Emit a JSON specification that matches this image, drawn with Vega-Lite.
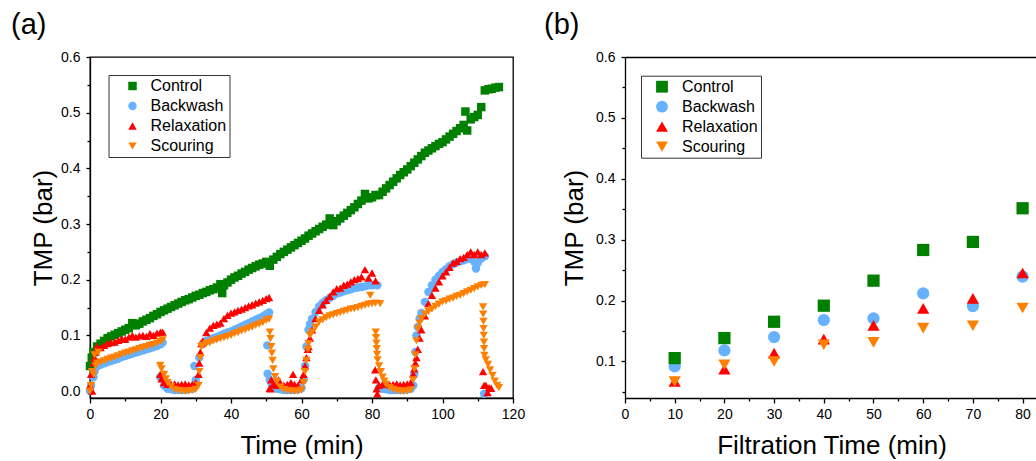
{
"$schema": "https://vega.github.io/schema/vega-lite/v6.json",
"padding": {"left": 10, "top": 10, "right": 0, "bottom": 0},
"background": "white",
"spacing": 112,
"bounds": "flush",
"config": {
  "font": "Liberation Sans",
  "view": {"stroke": null},
  "axis": {"labelFont": "Liberation Sans", "titleFont": "Liberation Sans", "labelFontSize": 14, "titleFontSize": 26, "titleFontWeight": "normal", "labelColor": "#000", "titleColor": "#000", "domainColor": "#000", "tickColor": "#000", "domainWidth": 1.3, "tickWidth": 1.3, "grid": false, "labelFlush": false, "labelOverlap": false},
  "legend": {"labelFont": "Liberation Sans", "labelFontSize": 16, "labelColor": "#000", "strokeColor": "#333", "padding": 3, "rowPadding": 4, "symbolStrokeWidth": 0},
  "title": {"font": "Liberation Sans", "fontSize": 29, "fontWeight": "normal", "color": "#000"}
},
"datasets": {
"a": [
{"t":0,"Control":0.045,"Backwash":0.0,"Relaxation":0.01,"Scouring":0.0},
{"t":1,"Control":0.07,"Backwash":0.025,"Relaxation":0.05,"Scouring":0.03},
{"t":2,"Control":0.08,"Backwash":0.044,"Relaxation":0.08,"Scouring":0.05},
{"t":3,"Control":0.085,"Backwash":0.047,"Relaxation":0.078,"Scouring":0.052},
{"t":4,"Control":0.09,"Backwash":0.05,"Relaxation":0.082,"Scouring":0.054},
{"t":5,"Control":0.095,"Backwash":0.052,"Relaxation":0.085,"Scouring":0.057},
{"t":6,"Control":0.098,"Backwash":0.054,"Relaxation":0.087,"Scouring":0.059},
{"t":7,"Control":0.101,"Backwash":0.056,"Relaxation":0.088,"Scouring":0.061},
{"t":8,"Control":0.104,"Backwash":0.058,"Relaxation":0.091,"Scouring":0.063},
{"t":9,"Control":0.107,"Backwash":0.061,"Relaxation":0.094,"Scouring":0.066},
{"t":10,"Control":0.11,"Backwash":0.063,"Relaxation":0.093,"Scouring":0.068},
{"t":11,"Control":0.113,"Backwash":0.065,"Relaxation":0.097,"Scouring":0.07},
{"t":12,"Control":0.122,"Backwash":0.067,"Relaxation":0.1,"Scouring":0.072},
{"t":13,"Control":0.118,"Backwash":0.069,"Relaxation":0.097,"Scouring":0.074},
{"t":14,"Control":0.121,"Backwash":0.071,"Relaxation":0.099,"Scouring":0.076},
{"t":15,"Control":0.125,"Backwash":0.073,"Relaxation":0.1,"Scouring":0.078},
{"t":16,"Control":0.128,"Backwash":0.075,"Relaxation":0.098,"Scouring":0.08},
{"t":17,"Control":0.131,"Backwash":0.077,"Relaxation":0.103,"Scouring":0.082},
{"t":18,"Control":0.135,"Backwash":0.079,"Relaxation":0.1,"Scouring":0.084},
{"t":19,"Control":0.138,"Backwash":0.081,"Relaxation":0.104,"Scouring":0.086},
{"t":20,"Control":0.142,"Backwash":0.084,"Relaxation":0.106,"Scouring":0.089},
{"t":21,"Control":0.145,"Backwash":0.01,"Relaxation":0.015,"Scouring":0.03},
{"t":22,"Control":0.148,"Backwash":0.004,"Relaxation":0.012,"Scouring":0.015},
{"t":23,"Control":0.151,"Backwash":0.003,"Relaxation":0.012,"Scouring":0.008},
{"t":24,"Control":0.154,"Backwash":0.002,"Relaxation":0.013,"Scouring":0.003},
{"t":25,"Control":0.157,"Backwash":0.002,"Relaxation":0.011,"Scouring":0.001},
{"t":26,"Control":0.16,"Backwash":0.002,"Relaxation":0.012,"Scouring":0.0},
{"t":27,"Control":0.163,"Backwash":0.002,"Relaxation":0.013,"Scouring":0.0},
{"t":28,"Control":0.165,"Backwash":0.003,"Relaxation":0.011,"Scouring":0.0},
{"t":29,"Control":0.168,"Backwash":0.004,"Relaxation":0.012,"Scouring":0.001},
{"t":30,"Control":0.171,"Backwash":0.02,"Relaxation":0.015,"Scouring":0.003},
{"t":31,"Control":0.173,"Backwash":0.06,"Relaxation":0.05,"Scouring":0.035},
{"t":32,"Control":0.176,"Backwash":0.085,"Relaxation":0.09,"Scouring":0.082},
{"t":33,"Control":0.178,"Backwash":0.09,"Relaxation":0.105,"Scouring":0.085},
{"t":34,"Control":0.181,"Backwash":0.092,"Relaxation":0.113,"Scouring":0.087},
{"t":35,"Control":0.183,"Backwash":0.095,"Relaxation":0.118,"Scouring":0.09},
{"t":36,"Control":0.186,"Backwash":0.097,"Relaxation":0.12,"Scouring":0.092},
{"t":37,"Control":0.192,"Backwash":0.1,"Relaxation":0.122,"Scouring":0.094},
{"t":38,"Control":0.19,"Backwash":0.103,"Relaxation":0.13,"Scouring":0.096},
{"t":39,"Control":0.195,"Backwash":0.105,"Relaxation":0.136,"Scouring":0.098},
{"t":40,"Control":0.2,"Backwash":0.107,"Relaxation":0.14,"Scouring":0.1},
{"t":41,"Control":0.204,"Backwash":0.11,"Relaxation":0.142,"Scouring":0.103},
{"t":42,"Control":0.207,"Backwash":0.113,"Relaxation":0.145,"Scouring":0.105},
{"t":43,"Control":0.211,"Backwash":0.116,"Relaxation":0.147,"Scouring":0.108},
{"t":44,"Control":0.214,"Backwash":0.119,"Relaxation":0.15,"Scouring":0.11},
{"t":45,"Control":0.218,"Backwash":0.122,"Relaxation":0.153,"Scouring":0.113},
{"t":46,"Control":0.221,"Backwash":0.125,"Relaxation":0.155,"Scouring":0.115},
{"t":47,"Control":0.224,"Backwash":0.128,"Relaxation":0.158,"Scouring":0.118},
{"t":48,"Control":0.227,"Backwash":0.131,"Relaxation":0.16,"Scouring":0.12},
{"t":49,"Control":0.229,"Backwash":0.134,"Relaxation":0.163,"Scouring":0.123},
{"t":50,"Control":0.232,"Backwash":0.138,"Relaxation":0.166,"Scouring":0.127},
{"t":51,"Control":0.225,"Backwash":0.02,"Relaxation":0.005,"Scouring":0.106},
{"t":52,"Control":0.236,"Backwash":0.008,"Relaxation":0.012,"Scouring":0.04},
{"t":53,"Control":0.241,"Backwash":0.004,"Relaxation":0.01,"Scouring":0.017},
{"t":54,"Control":0.246,"Backwash":0.003,"Relaxation":0.012,"Scouring":0.007},
{"t":55,"Control":0.25,"Backwash":0.002,"Relaxation":0.01,"Scouring":0.003},
{"t":56,"Control":0.254,"Backwash":0.002,"Relaxation":0.012,"Scouring":0.001},
{"t":57,"Control":0.258,"Backwash":0.002,"Relaxation":0.015,"Scouring":0.0},
{"t":58,"Control":0.262,"Backwash":0.002,"Relaxation":0.012,"Scouring":0.0},
{"t":59,"Control":0.266,"Backwash":0.003,"Relaxation":0.01,"Scouring":0.0},
{"t":60,"Control":0.27,"Backwash":0.005,"Relaxation":0.02,"Scouring":0.002},
{"t":61,"Control":0.274,"Backwash":0.045,"Relaxation":0.045,"Scouring":0.035},
{"t":62,"Control":0.279,"Backwash":0.11,"Relaxation":0.08,"Scouring":0.085},
{"t":63,"Control":0.283,"Backwash":0.13,"Relaxation":0.11,"Scouring":0.106},
{"t":64,"Control":0.287,"Backwash":0.142,"Relaxation":0.13,"Scouring":0.115},
{"t":65,"Control":0.291,"Backwash":0.152,"Relaxation":0.145,"Scouring":0.124},
{"t":66,"Control":0.295,"Backwash":0.158,"Relaxation":0.155,"Scouring":0.128},
{"t":67,"Control":0.299,"Backwash":0.163,"Relaxation":0.163,"Scouring":0.132},
{"t":68,"Control":0.31,"Backwash":0.167,"Relaxation":0.17,"Scouring":0.135},
{"t":69,"Control":0.298,"Backwash":0.171,"Relaxation":0.178,"Scouring":0.137},
{"t":70,"Control":0.305,"Backwash":0.175,"Relaxation":0.184,"Scouring":0.139},
{"t":71,"Control":0.31,"Backwash":0.177,"Relaxation":0.185,"Scouring":0.141},
{"t":72,"Control":0.315,"Backwash":0.179,"Relaxation":0.19,"Scouring":0.143},
{"t":73,"Control":0.32,"Backwash":0.181,"Relaxation":0.192,"Scouring":0.145},
{"t":74,"Control":0.325,"Backwash":0.183,"Relaxation":0.196,"Scouring":0.147},
{"t":75,"Control":0.33,"Backwash":0.185,"Relaxation":0.2,"Scouring":0.148},
{"t":76,"Control":0.336,"Backwash":0.186,"Relaxation":0.202,"Scouring":0.15},
{"t":77,"Control":0.342,"Backwash":0.187,"Relaxation":0.205,"Scouring":0.152},
{"t":78,"Control":0.354,"Backwash":0.188,"Relaxation":0.218,"Scouring":0.154},
{"t":79,"Control":0.346,"Backwash":0.19,"Relaxation":0.203,"Scouring":0.156},
{"t":80,"Control":0.348,"Backwash":0.19,"Relaxation":0.212,"Scouring":0.157},
{"t":81,"Control":0.352,"Backwash":0.191,"Relaxation":0.198,"Scouring":0.158},
{"t":82,"Control":0.352,"Backwash":0.006,"Relaxation":0.01,"Scouring":0.045},
{"t":83,"Control":0.358,"Backwash":0.004,"Relaxation":0.012,"Scouring":0.025},
{"t":84,"Control":0.364,"Backwash":0.003,"Relaxation":0.013,"Scouring":0.012},
{"t":85,"Control":0.37,"Backwash":0.002,"Relaxation":0.011,"Scouring":0.006},
{"t":86,"Control":0.376,"Backwash":0.002,"Relaxation":0.012,"Scouring":0.003},
{"t":87,"Control":0.382,"Backwash":0.002,"Relaxation":0.013,"Scouring":0.001},
{"t":88,"Control":0.388,"Backwash":0.002,"Relaxation":0.011,"Scouring":0.0},
{"t":89,"Control":0.393,"Backwash":0.002,"Relaxation":0.012,"Scouring":0.0},
{"t":90,"Control":0.398,"Backwash":0.003,"Relaxation":0.013,"Scouring":0.0},
{"t":91,"Control":0.404,"Backwash":0.004,"Relaxation":0.015,"Scouring":0.002},
{"t":92,"Control":0.41,"Backwash":0.03,"Relaxation":0.04,"Scouring":0.04},
{"t":93,"Control":0.416,"Backwash":0.115,"Relaxation":0.075,"Scouring":0.112},
{"t":94,"Control":0.422,"Backwash":0.14,"Relaxation":0.11,"Scouring":0.13},
{"t":95,"Control":0.428,"Backwash":0.16,"Relaxation":0.135,"Scouring":0.138},
{"t":96,"Control":0.432,"Backwash":0.178,"Relaxation":0.157,"Scouring":0.143},
{"t":97,"Control":0.436,"Backwash":0.19,"Relaxation":0.172,"Scouring":0.147},
{"t":98,"Control":0.44,"Backwash":0.2,"Relaxation":0.185,"Scouring":0.152},
{"t":99,"Control":0.444,"Backwash":0.207,"Relaxation":0.196,"Scouring":0.156},
{"t":100,"Control":0.447,"Backwash":0.214,"Relaxation":0.207,"Scouring":0.16},
{"t":101,"Control":0.452,"Backwash":0.219,"Relaxation":0.214,"Scouring":0.162},
{"t":102,"Control":0.457,"Backwash":0.224,"Relaxation":0.222,"Scouring":0.165},
{"t":103,"Control":0.462,"Backwash":0.228,"Relaxation":0.23,"Scouring":0.167},
{"t":104,"Control":0.467,"Backwash":0.231,"Relaxation":0.233,"Scouring":0.17},
{"t":105,"Control":0.472,"Backwash":0.233,"Relaxation":0.238,"Scouring":0.172},
{"t":106,"Control":0.478,"Backwash":0.235,"Relaxation":0.24,"Scouring":0.175},
{"t":107,"Control":0.468,"Backwash":0.237,"Relaxation":0.245,"Scouring":0.178},
{"t":108,"Control":0.488,"Backwash":0.238,"Relaxation":0.25,"Scouring":0.181},
{"t":109,"Control":0.492,"Backwash":0.232,"Relaxation":0.245,"Scouring":0.184},
{"t":110,"Control":0.496,"Backwash":0.23,"Relaxation":0.25,"Scouring":0.187},
{"t":111,"Control":0.51,"Backwash":0.238,"Relaxation":0.245,"Scouring":0.19},
{"t":112,"Control":0.54,"Backwash":0.242,"Relaxation":0.248,"Scouring":0.191},
{"t":113,"Control":0.542},
{"t":114,"Control":0.543},
{"t":115,"Control":0.545},
{"t":116,"Control":0.546,"Scouring":0.006},
{"t":0.3,"Backwash":0.01,"Relaxation":0.03,"Scouring":0.01},
{"t":0.5,"Control":0.06},
{"t":0.6,"Relaxation":0.0,"Scouring":0.035},
{"t":1.3,"Backwash":0.035,"Relaxation":0.06,"Scouring":0.065},
{"t":1.6,"Relaxation":0.07,"Scouring":0.045},
{"t":2.4,"Scouring":0.07},
{"t":19.9,"Backwash":0.025,"Relaxation":0.03,"Scouring":0.046},
{"t":20.3,"Relaxation":0.022,"Scouring":0.04},
{"t":20.6,"Backwash":0.087,"Relaxation":0.106,"Scouring":0.092},
{"t":21.5,"Scouring":0.022},
{"t":29.6,"Backwash":0.045},
{"t":30.8,"Relaxation":0.03,"Scouring":0.01},
{"t":31.3,"Relaxation":0.07,"Scouring":0.06},
{"t":31.6,"Relaxation":0.085,"Scouring":0.08},
{"t":37.5,"Control":0.176},
{"t":50.3,"Backwash":0.082},
{"t":50.4,"Backwash":0.031},
{"t":50.8,"Backwash":0.141,"Relaxation":0.168,"Scouring":0.129},
{"t":51.2,"Relaxation":0.004,"Scouring":0.094},
{"t":51.4,"Relaxation":0.02,"Scouring":0.08},
{"t":51.6,"Backwash":0.012,"Scouring":0.068},
{"t":51.8,"Scouring":0.055},
{"t":52.5,"Scouring":0.026},
{"t":53.5,"Relaxation":0.02},
{"t":57.6,"Relaxation":0.03},
{"t":60.6,"Backwash":0.02,"Relaxation":0.03,"Scouring":0.015},
{"t":61.4,"Backwash":0.08,"Relaxation":0.06,"Scouring":0.055},
{"t":61.8,"Relaxation":0.075,"Scouring":0.075},
{"t":62.4,"Backwash":0.12,"Relaxation":0.095,"Scouring":0.1},
{"t":79.5,"Scouring":0.172},
{"t":80.9,"Relaxation":0.038},
{"t":81.05,"Scouring":0.106},
{"t":81.1,"Relaxation":0.02},
{"t":81.15,"Scouring":0.096},
{"t":81.25,"Scouring":0.086},
{"t":81.3,"Relaxation":0.004},
{"t":81.35,"Scouring":0.076},
{"t":81.45,"Scouring":0.066},
{"t":81.5,"Relaxation":-0.005,"Backwash":0.19},
{"t":81.6,"Scouring":0.056},
{"t":82.3,"Scouring":0.157},
{"t":82.5,"Scouring":0.035},
{"t":83.5,"Scouring":0.018},
{"t":91.7,"Backwash":0.01,"Relaxation":0.03,"Scouring":0.02},
{"t":92.3,"Backwash":0.07,"Relaxation":0.05,"Scouring":0.065},
{"t":92.6,"Backwash":0.1,"Relaxation":0.06,"Scouring":0.09},
{"t":93.5,"Backwash":0.13,"Relaxation":0.095,"Scouring":0.122},
{"t":106.5,"Control":0.502},
{"t":109.5,"Backwash":0.22},
{"t":111.5,"Relaxation":0.035,"Scouring":0.151},
{"t":111.55,"Scouring":0.138},
{"t":111.6,"Scouring":0.125},
{"t":111.65,"Scouring":0.112},
{"t":111.7,"Scouring":0.1},
{"t":111.75,"Scouring":0.088},
{"t":111.8,"Relaxation":0.01,"Backwash":-0.005,"Scouring":0.076},
{"t":111.9,"Scouring":0.064},
{"t":112.3,"Relaxation":0.01,"Scouring":0.056},
{"t":112.8,"Relaxation":-0.003},
{"t":112.9,"Scouring":0.048},
{"t":113.2,"Relaxation":0.006},
{"t":113.5,"Scouring":0.038},
{"t":113.8,"Relaxation":0.005},
{"t":114.2,"Scouring":0.028},
{"t":114.8,"Scouring":0.018},
{"t":115.5,"Scouring":0.01}
],
"b": [
{"t":10,"Control":0.1055,"Backwash":0.0918,"Relaxation":0.067,"Scouring":0.067},
{"t":20,"Control":0.1384,"Backwash":0.1181,"Relaxation":0.0874,"Scouring":0.0945},
{"t":30,"Control":0.1652,"Backwash":0.14,"Relaxation":0.1137,"Scouring":0.1},
{"t":40,"Control":0.1916,"Backwash":0.168,"Relaxation":0.1367,"Scouring":0.1274},
{"t":50,"Control":0.2327,"Backwash":0.1707,"Relaxation":0.1592,"Scouring":0.1313},
{"t":60,"Control":0.2831,"Backwash":0.2118,"Relaxation":0.1872,"Scouring":0.1548},
{"t":70,"Control":0.2963,"Backwash":0.191,"Relaxation":0.2036,"Scouring":0.1587},
{"t":80,"Control":0.3516,"Backwash":0.2393,"Relaxation":0.2453,"Scouring":0.1877}
]
},
"resolve": {"scale": {"color": "independent", "shape": "independent", "size": "independent"}, "legend": {"color": "independent", "shape": "independent"}},
"hconcat": [
{
  "width": 423, "height": 341,
  "view": {"stroke": "#000", "strokeWidth": 1.3},
  "title": {"text": "(a)", "anchor": "start", "frame": "group", "dx": -79, "offset": 10},
  "data": {"name": "a"},
  "transform": [{"fold": ["Control", "Backwash", "Relaxation", "Scouring"], "as": ["series", "TMP"]}, {"filter": "isValid(datum.TMP)"}],
  "mark": {"type": "point", "filled": true, "opacity": 1},
  "encoding": {
    "x": {"field": "t", "type": "quantitative", "scale": {"domain": [0, 120], "nice": false, "zero": false},
      "axis": {"title": "Time (min)", "values": [0,10,20,30,40,50,60,70,80,90,100,110,120], "labelExpr": "datum.value % 20 === 0 ? datum.label : ''", "tickSize": {"condition": {"test": "datum.value % 20 === 0", "value": 5}, "value": 3}, "labelPadding": 4, "titlePadding": 11}},
    "y": {"field": "TMP", "type": "quantitative", "scale": {"domain": [-0.0125, 0.6], "nice": false, "zero": false},
      "axis": {"title": "TMP (bar)", "values": [0,0.05,0.1,0.15,0.2,0.25,0.3,0.35,0.4,0.45,0.5,0.55,0.6], "labelExpr": "abs(datum.value*10 - round(datum.value*10)) < 0.001 ? format(datum.value, '.1f') : ''", "tickSize": {"condition": {"test": "abs(datum.value*10 - round(datum.value*10)) < 0.001", "value": 4}, "value": 3}, "labelPadding": 6, "titlePadding": 4}},
    "size": {"field": "series", "type": "nominal", "scale": {"domain": ["Control", "Backwash", "Relaxation", "Scouring"], "range": [72, 70, 100, 100]}, "legend": null},
    "color": {"field": "series", "type": "nominal", "scale": {"domain": ["Control", "Backwash", "Relaxation", "Scouring"], "range": ["#008000", "#66B2FF", "#FF0000", "#FF8000"]},
      "legend": {"title": null, "orient": "none", "legendX": 18.5, "legendY": 18, "symbolSize": 48, "symbolOffset": 13, "labelOffset": 10}},
    "shape": {"field": "series", "type": "nominal", "scale": {"domain": ["Control", "Backwash", "Relaxation", "Scouring"], "range": ["square", "circle", "triangle-up", "triangle-down"]},
      "legend": {"title": null, "orient": "none", "legendX": 18.5, "legendY": 18, "symbolSize": 48, "symbolOffset": 13, "labelOffset": 10}},
    "order": {"field": "series", "type": "ordinal"}
  }
},
{
  "width": 413, "height": 341,
  "title": {"text": "(b)", "anchor": "start", "frame": "group", "dx": -81, "offset": 10},
  "data": {"name": "b"},
  "layer": [
    {
      "transform": [{"fold": ["Control", "Backwash", "Relaxation", "Scouring"], "as": ["series", "TMP"]}],
      "mark": {"type": "point", "filled": true, "opacity": 1, "size": 150},
      "encoding": {
        "x": {"field": "t", "type": "quantitative", "scale": {"domain": [0, 83.1], "nice": false, "zero": false},
          "axis": {"title": "Filtration Time (min)", "values": [0,5,10,15,20,25,30,35,40,45,50,55,60,65,70,75,80], "labelExpr": "datum.value % 10 === 0 ? datum.label : ''", "tickSize": {"condition": {"test": "datum.value % 10 === 0", "value": 5}, "value": 3}, "labelPadding": 4, "titlePadding": 11}},
        "y": {"field": "TMP", "type": "quantitative", "scale": {"domain": [0.04, 0.6], "nice": false, "zero": false},
          "axis": {"title": "TMP (bar)", "values": [0.05,0.1,0.15,0.2,0.25,0.3,0.35,0.4,0.45,0.5,0.55,0.6], "labelExpr": "abs(datum.value*10 - round(datum.value*10)) < 0.001 ? format(datum.value, '.1f') : ''", "tickSize": {"condition": {"test": "abs(datum.value*10 - round(datum.value*10)) < 0.001", "value": 4}, "value": 3}, "labelPadding": 6, "titlePadding": 8}},
        "color": {"field": "series", "type": "nominal", "scale": {"domain": ["Control", "Backwash", "Relaxation", "Scouring"], "range": ["#008000", "#66B2FF", "#FF0000", "#FF8000"]},
          "legend": {"title": null, "orient": "none", "legendX": 16, "legendY": 18.7, "symbolSize": 140, "symbolOffset": 10, "labelOffset": 12}},
        "shape": {"field": "series", "type": "nominal", "scale": {"domain": ["Control", "Backwash", "Relaxation", "Scouring"], "range": ["square", "circle", "triangle-up", "triangle-down"]},
          "legend": {"title": null, "orient": "none", "legendX": 16, "legendY": 18.7, "symbolSize": 140, "symbolOffset": 10, "labelOffset": 12}},
        "order": {"field": "series", "type": "ordinal"}
      }
    },
    {
      "mark": {"type": "point", "opacity": 0},
      "encoding": {
        "x": {"field": "t", "type": "quantitative", "axis": {"orient": "top", "labels": false, "ticks": false, "title": null, "domain": true}}
      }
    }
  ],
  "resolve": {"axis": {"x": "independent"}}
}
]
}
